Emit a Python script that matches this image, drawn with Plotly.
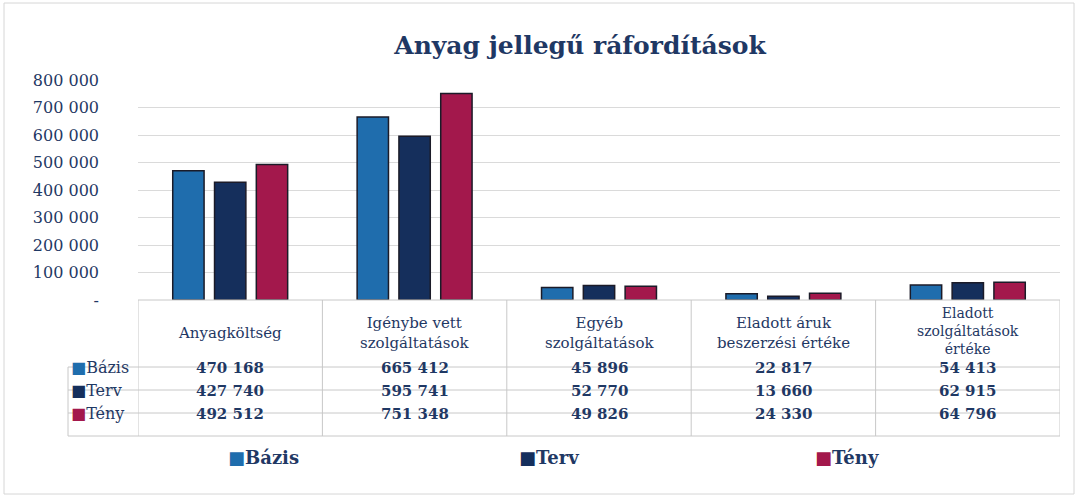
import plotly.graph_objects as go

categories = ["Anyagköltség", "Igénybe vett szolgáltatások", "Egyéb szolgáltatások",
              "Eladott áruk beszerzési értéke", "Eladott szolgáltatások értéke"]
header_labels = ["Anyagköltség", "Igénybe vett<br>szolgáltatások", "Egyéb<br>szolgáltatások",
                 "Eladott áruk<br>beszerzési értéke", "Eladott<br>szolgáltatások<br>értéke"]
series_names = ["Bázis", "Terv", "Tény"]
bazis = [470168, 665412, 45896, 22817, 54413]
terv = [427740, 595741, 52770, 13660, 62915]
teny = [492512, 751348, 49826, 24330, 64796]
tick_vals = [0, 100000, 200000, 300000, 400000, 500000, 600000, 700000, 800000]
tick_text = ["-", "100 000", "200 000", "300 000", "400 000", "500 000", "600 000", "700 000", "800 000"]

colors = ["#1F6DAD", "#152F5C", "#A3184C"]
text_col = "#1F3864"
FONT = "DejaVu Serif"

W, H = 1078, 498
ML, MR, MT, MB = 138, 18, 80, 198
PW, PH = W - ML - MR, H - MT - MB


def py(p):  # pixel y -> paper y
    return (H - MB - p) / PH


def px(p):  # pixel x -> paper x
    return (p - ML) / PW


def fmt(v):
    return f"{v:,}".replace(",", " ")


xs = list(range(len(categories)))
fig = go.Figure()
for name, vals, c in zip(series_names, [bazis, terv, teny], colors):
    fig.add_trace(go.Bar(x=xs, y=vals, name=name, showlegend=False, hovertext=categories,
                         marker=dict(color=c, line=dict(color="#1b1b28", width=1.5))))

shapes = []
ann = []
grid_c = "#C8C8C8"
for r in [367, 390, 413, 436]:
    shapes.append(dict(type="line", xref="paper", yref="paper", x0=px(68), x1=1, y0=py(r), y1=py(r),
                       line=dict(color=grid_c, width=1)))
shapes.append(dict(type="line", xref="paper", yref="paper", x0=0, x1=1, y0=0, y1=0,
                   line=dict(color=grid_c, width=1)))
for b in [-0.5, 0.5, 1.5, 2.5, 3.5, 4.5]:
    shapes.append(dict(type="line", xref="x", yref="paper", x0=b, x1=b, y0=0, y1=py(436),
                       line=dict(color=grid_c, width=1)))
shapes.append(dict(type="line", xref="paper", yref="paper", x0=px(68), x1=px(68), y0=py(367), y1=py(436),
                   line=dict(color=grid_c, width=1)))
# outer border
shapes.append(dict(type="rect", xref="paper", yref="paper", x0=px(4), x1=px(1074), y0=py(494), y1=py(3),
                   line=dict(color="#D6D6D6", width=1)))

for i, h in enumerate(header_labels):
    three = h.count("<br>") == 2
    ann.append(dict(x=i, xref="x", y=py(331 if three else 333), yref="paper", text=h, showarrow=False,
                    font=dict(family=FONT, size=14 if three else 15, color=text_col), yanchor="middle"))
row_centers = [378.5, 401.5, 424.5]
for name, vals, c, yc in zip(series_names, [bazis, terv, teny], colors, row_centers):
    ann.append(dict(x=px(69), xref="paper", y=py(yc), yref="paper", xanchor="left", showarrow=False,
                    text=f"<span style='color:{c}'>■</span>{name}",
                    font=dict(family=FONT, size=16, color=text_col)))
    for i, v in enumerate(vals):
        ann.append(dict(x=i, xref="x", y=py(yc), yref="paper", text=f"<b>{fmt(v)}</b>", showarrow=False,
                        font=dict(family=FONT, size=15, color=text_col)))

# legend drawn as text entries below the table
legend_x = [226, 517, 813]
for name, c, lx in zip(series_names, colors, legend_x):
    ann.append(dict(x=px(lx), xref="paper", y=py(470), yref="paper", xanchor="left", showarrow=False,
                    text=f"<span style='color:{c}'>■</span><b>{name}</b>",
                    font=dict(family=FONT, size=18, color=text_col)))

fig.update_layout(
    width=W, height=H,
    margin=dict(l=ML, r=MR, t=MT, b=MB, autoexpand=False),
    paper_bgcolor="white", plot_bgcolor="white",
    title=dict(text="<b>Anyag jellegű ráfordítások</b>", x=px(580), xref="paper", xanchor="center",
               y=1 - 45 / H, yanchor="middle", font=dict(family=FONT, size=25, color=text_col)),
    barmode="group", bargap=0.32, bargroupgap=0.25,
    showlegend=False,
    xaxis=dict(range=[-0.5, 4.5], showticklabels=False, showgrid=False, zeroline=False, showline=False,
               tickvals=xs),
    yaxis=dict(range=[0, 800000], tickvals=tick_vals, ticktext=tick_text, showgrid=True,
               gridcolor="#DADADA", zeroline=False, showline=False, ticklabelstandoff=38,
               tickfont=dict(family=FONT, size=16, color=text_col)),
    shapes=shapes, annotations=ann,
)

fig.write_html("out.html", config={"displayModeBar": False},
               post_script="document.body.style.margin='0px';")
